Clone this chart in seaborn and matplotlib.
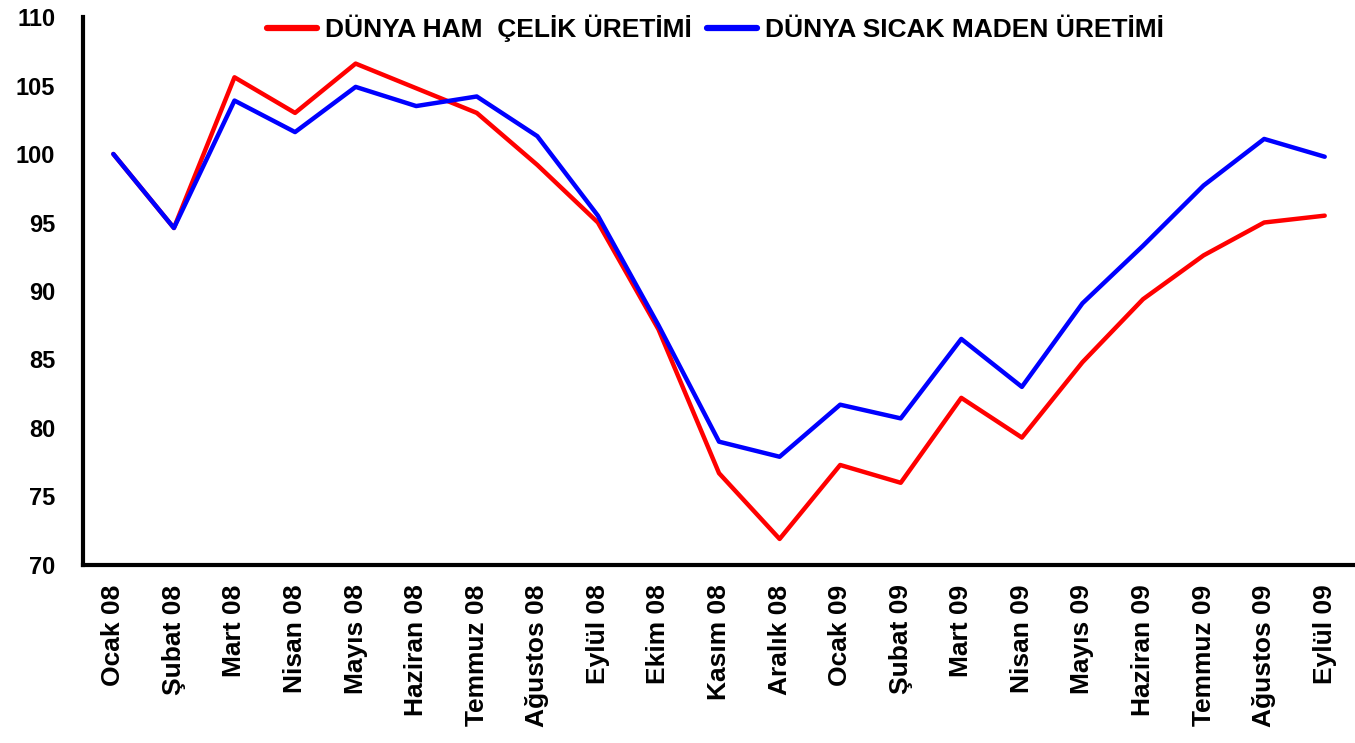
import matplotlib
matplotlib.use("Agg")
import matplotlib.pyplot as plt
import seaborn as sns
import pandas as pd

# data
months = ["Ocak 08", "Şubat 08", "Mart 08", "Nisan 08", "Mayıs 08", "Haziran 08",
          "Temmuz 08", "Ağustos 08", "Eylül 08", "Ekim 08", "Kasım 08", "Aralık 08",
          "Ocak 09", "Şubat 09", "Mart 09", "Nisan 09", "Mayıs 09", "Haziran 09",
          "Temmuz 09", "Ağustos 09", "Eylül 09"]
ham_celik = [100.0, 94.6, 105.6, 103.0, 106.6, 104.8, 103.0, 99.2, 95.0, 87.2, 76.7,
             71.9, 77.3, 76.0, 82.2, 79.3, 84.8, 89.4, 92.6, 95.0, 95.5]
sicak_maden = [100.0, 94.6, 103.9, 101.6, 104.9, 103.5, 104.2, 101.3, 95.5, 87.5, 79.0,
               77.9, 81.7, 80.7, 86.5, 83.0, 89.1, 93.3, 97.7, 101.1, 99.8]
series_names = ["DÜNYA HAM  ÇELİK ÜRETİMİ", "DÜNYA SICAK MADEN ÜRETİMİ"]
yticks = [70, 75, 80, 85, 90, 95, 100, 105, 110]

df = pd.DataFrame({
    "x": list(range(len(months))) * 2,
    "value": ham_celik + sicak_maden,
    "series": [series_names[0]] * len(months) + [series_names[1]] * len(months),
})

sns.set_style("white")
plt.rcParams["font.family"] = ["Liberation Sans", "DejaVu Sans"]
plt.rcParams["font.weight"] = "bold"
plt.rcParams["text.color"] = "black"
plt.rcParams["xtick.color"] = "black"
plt.rcParams["ytick.color"] = "black"

fig = plt.figure(figsize=(13.55, 7.43), dpi=100)
ax = fig.add_axes([0.0613, 0.2396, 0.9387, 0.7375])

sns.lineplot(data=df, x="x", y="value", hue="series",
             palette={series_names[0]: "#ff0000", series_names[1]: "#0000ff"},
             linewidth=3.2, ax=ax, legend=False)

ax.set_xlim(-0.5, 20.35)
ax.set_ylim(70, 110)
ax.set_yticks(yticks)
ax.set_yticklabels([str(v) for v in yticks], fontsize=17, fontweight="bold", color="black")
ax.set_xticks(range(len(months)))
ax.set_xticklabels(months, rotation=90, fontsize=19, fontweight="bold", color="black")
ax.set_xticks([i - 0.5 for i in range(len(months) + 1)], minor=True)
ax.tick_params(axis="x", which="major", length=0, pad=14)
ax.tick_params(axis="x", which="minor", length=8, width=2, direction="out", colors="black")
ax.tick_params(axis="y", length=8, width=2.5, direction="out", pad=12, colors="black")
ax.set_xlabel("")
ax.set_ylabel("")

for side in ["top", "right"]:
    ax.spines[side].set_visible(False)
for side in ["left", "bottom"]:
    ax.spines[side].set_linewidth(3)
    ax.spines[side].set_color("black")

handles = [plt.Line2D([0], [0], color="#ff0000", lw=4.5, solid_capstyle="round"),
           plt.Line2D([0], [0], color="#0000ff", lw=4.5, solid_capstyle="round")]
leg = fig.legend(handles, series_names, loc="upper center", bbox_to_anchor=(0.528, 1.012),
                 ncol=2, frameon=False, handlelength=1.9, handletextpad=0.3,
                 columnspacing=0.6, prop={"size": 19, "weight": "bold"})
for t in leg.get_texts():
    t.set_color("black")

fig.savefig("out.png", dpi=100)
